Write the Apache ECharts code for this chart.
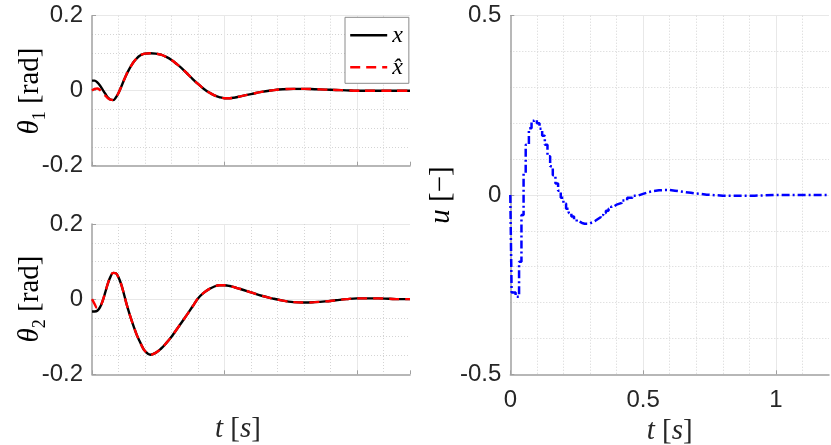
<!DOCTYPE html>
<html>
<head>
<meta charset="utf-8">
<script src="https://cdn.jsdelivr.net/npm/echarts@6/dist/echarts.min.js"></script>
<style>
html,body{margin:0;padding:0;background:#fff;}
#c{width:831px;height:445px;}
</style>
</head>
<body>
<div id="c"></div>
<script>
// ---- data ----
const tTheta = [0,0.01,0.02,0.03,0.04,0.05,0.06,0.07,0.08,0.09,0.10,0.11,0.12,0.13,0.14,0.15,0.16,0.17,0.18,0.19,0.20,
  0.22,0.24,0.26,0.28,0.30,0.32,0.34,0.36,0.38,0.40,0.42,0.44,0.46,0.48,0.50,0.52,0.54,0.56,
  0.60,0.64,0.68,0.72,0.76,0.80,0.84,0.88,0.92,0.96,1.00,1.04,1.08,1.12,1.16,1.20];

const theta1 = [0.027,0.027,0.022,0.014,0.003,-0.008,-0.018,-0.024,-0.025,-0.018,-0.006,0.010,0.027,0.043,0.057,0.069,0.079,0.087,0.093,0.097,0.099,
  0.100,0.099,0.096,0.090,0.082,0.071,0.059,0.045,0.031,0.018,0.006,-0.004,-0.012,-0.017,-0.020,-0.020,-0.018,-0.015,
  -0.009,-0.003,0.001,0.004,0.005,0.005,0.004,0.003,0.002,0.001,0,0,0,0,0,0];

const theta1Hat = [0,0.005,0.006,0.002,-0.005,-0.013,-0.020,-0.024,-0.025,-0.018,-0.006,0.010,0.027,0.043,0.057,0.069,0.079,0.087,0.093,0.097,0.099,
  0.100,0.099,0.096,0.090,0.082,0.071,0.059,0.045,0.031,0.018,0.006,-0.004,-0.012,-0.017,-0.020,-0.020,-0.018,-0.015,
  -0.009,-0.003,0.001,0.004,0.005,0.005,0.004,0.003,0.002,0.001,0,0,0,0,0,0];

const theta2 = [-0.033,-0.033,-0.031,-0.022,-0.005,0.018,0.042,0.060,0.070,0.069,0.058,0.040,0.015,-0.012,-0.036,-0.058,-0.078,-0.097,-0.112,-0.127,-0.138,
  -0.148,-0.143,-0.132,-0.117,-0.100,-0.080,-0.060,-0.040,-0.019,0.002,0.016,0.026,0.033,0.037,0.037,0.035,0.031,0.027,
  0.018,0.009,0.002,-0.004,-0.008,-0.009,-0.008,-0.006,-0.003,0,0.002,0.002,0.002,0.001,0,0];

const theta2Hat = [0,-0.013,-0.024,-0.020,-0.005,0.018,0.042,0.060,0.070,0.069,0.058,0.040,0.015,-0.012,-0.036,-0.058,-0.078,-0.097,-0.112,-0.127,-0.138,
  -0.148,-0.143,-0.132,-0.117,-0.100,-0.080,-0.060,-0.040,-0.019,0.002,0.016,0.026,0.033,0.037,0.037,0.035,0.031,0.027,
  0.018,0.009,0.002,-0.004,-0.008,-0.009,-0.008,-0.006,-0.003,0,0.002,0.002,0.002,0.001,0,0];

const tU = [0,0.005,0.02,0.033,0.042,0.05,0.058,0.07,0.08,0.09,0.10,0.11,0.12,0.13,0.14,0.15,0.16,0.17,0.18,0.19,0.20,
  0.21,0.22,0.23,0.24,0.25,0.26,0.27,0.28,0.29,0.30,0.31,0.32,0.33,0.34,0.35,0.36,0.37,0.38,0.39,0.40,
  0.42,0.44,0.46,0.48,0.50,0.52,0.54,0.56,0.58,0.60,0.62,0.64,0.66,0.68,0.70,0.72,0.74,0.76,0.78,0.80,
  0.84,0.88,0.92,0.96,1.00,1.10,1.20];

const uVals = [0,-0.272,-0.284,-0.186,-0.056,0.060,0.140,0.186,0.207,0.210,0.200,0.185,0.165,0.140,0.108,0.080,0.055,0.032,0.012,-0.008,-0.024,
  -0.038,-0.050,-0.060,-0.068,-0.074,-0.078,-0.080,-0.080,-0.079,-0.076,-0.072,-0.067,-0.062,-0.056,-0.050,-0.044,-0.038,-0.032,-0.027,-0.022,
  -0.015,-0.008,-0.002,0.003,0.008,0.011,0.013,0.014,0.014,0.012,0.010,0.008,0.006,0.004,0.003,0.001,0,-0.001,-0.002,-0.002,
  -0.002,-0.002,-0.001,0,0,0,0];

const xTicksLabels = ['0','0.5','1'];
const seriesNames = ['x', 'x\u0302'];
const yTitles = ['{i|θ}{sub|1}{r| [rad]}', '{i|θ}{sub|2}{r| [rad]}', '{i|u}{r| [−]}'];
const xTitle = '{i|t}{r| [}{i|s}{r|]}';

// ---- chart ----
const chart = echarts.init(document.getElementById('c'), null, {renderer:'canvas'});

const axisCol = '#a0a0a0';
const txtCol = '#262626';
const sansFont = 'Liberation Sans, Arial, sans-serif';
const serifFont = 'Liberation Serif, Times New Roman, serif';

const titleRich = {
  i: {fontFamily: serifFont, fontStyle: 'italic', fontSize: 29, color: txtCol, lineHeight: 38, verticalAlign: 'middle'},
  r: {fontFamily: serifFont, fontSize: 29, color: txtCol, lineHeight: 38, verticalAlign: 'middle'},
  sub: {fontFamily: serifFont, fontSize: 18, color: txtCol, lineHeight: 18, verticalAlign: 'bottom'}
};

function xAx(gi, showLabels, name) {
  return {
    gridIndex: gi, type: 'value', min: 0, max: 1.2, interval: 0.5,
    axisLine: {show: true, onZero: false, lineStyle: {color: axisCol, width: 1.5}},
    axisTick: {show: true, inside: true, length: 4, lineStyle: {color: axisCol}},
    axisLabel: {show: showLabels, showMaxLabel: false, margin: 14, fontFamily: sansFont, fontSize: 24, color: txtCol,
      formatter: function (v) { const s = String(+v.toFixed(2)); return xTicksLabels.indexOf(s) >= 0 ? s : ''; }},
    splitLine: {show: true, showMaxLine: false, showMinLine: false, lineStyle: {color: '#e8e8e8', width: 1}},
    minorTick: {show: false, splitNumber: 5},
    minorSplitLine: {show: true, lineStyle: {color: '#d4d4d4', width: 1, type: [1, 2]}},
    name: name || '', nameLocation: 'middle', nameGap: 36,
    nameTextStyle: {rich: titleRich}
  };
}

function yAx(gi, lim, minorN) {
  return {
    gridIndex: gi, type: 'value', min: -lim, max: lim, interval: lim,
    axisLine: {show: true, onZero: false, lineStyle: {color: axisCol, width: 1.5}},
    axisTick: {show: true, inside: true, length: 4, lineStyle: {color: axisCol}},
    axisLabel: {margin: 9, fontFamily: sansFont, fontSize: 24, color: txtCol},
    splitLine: {show: true, showMinLine: false, lineStyle: {color: '#e8e8e8', width: 1}},
    minorTick: {show: false, splitNumber: minorN},
    minorSplitLine: {show: true, lineStyle: {color: '#d4d4d4', width: 1, type: [1, 2]}}
  };
}

function yTitle(text, x, y) {
  return {
    type: 'text', x: x, y: y, rotation: Math.PI / 2, silent: true,
    style: {text: text, rich: titleRich, align: 'center', verticalAlign: 'middle'}
  };
}

function pairs(t, v) { return t.map((x, i) => [x, v[i]]); }

const option = {
  animation: false,
  backgroundColor: '#fff',
  grid: [
    {left: 92, top: 15.7, width: 318, height: 150, outerBoundsMode: 'none', containLabel: false},
    {left: 92, top: 224, width: 318, height: 150.3, outerBoundsMode: 'none', containLabel: false},
    {left: 510.3, top: 15.7, width: 318.7, height: 358.6, outerBoundsMode: 'none', containLabel: false}
  ],
  xAxis: [
    xAx(0, false, ''),
    Object.assign(xAx(1, false, xTitle), {nameTextStyle: {rich: titleRich, padding: [0, 26, 0, 0]}}),
    xAx(2, true, xTitle)
  ],
  yAxis: [
    yAx(0, 0.2, 4),
    yAx(1, 0.2, 4),
    yAx(2, 0.5, 5)
  ],
  graphic: [
    yTitle(yTitles[0], 30, 91),
    yTitle(yTitles[1], 30, 299),
    yTitle(yTitles[2], 441, 195)
  ],
  legend: {
    data: seriesNames,
    orient: 'vertical',
    left: 345, top: 17.3,
    padding: [6, 6, 4, 4],
    itemWidth: 37, itemHeight: 14, itemGap: 8,
    backgroundColor: '#fff',
    borderColor: '#8a8a8a', borderWidth: 1, borderRadius: 0,
    itemStyle: {opacity: 0},
    lineStyle: {width: 2.4},
    textStyle: {fontFamily: serifFont, fontStyle: 'italic', fontSize: 24, color: '#000', lineHeight: 24},
    selectedMode: false
  },
  series: [
    {name: seriesNames[0], type: 'line', xAxisIndex: 0, yAxisIndex: 0, data: pairs(tTheta, theta1), smooth: 0.4,
      showSymbol: false, symbol: 'none', lineStyle: {color: '#000', width: 2.4}, itemStyle: {color: '#000'}, z: 3},
    {name: seriesNames[1], type: 'line', xAxisIndex: 0, yAxisIndex: 0, data: pairs(tTheta, theta1Hat), smooth: 0.4,
      showSymbol: false, symbol: 'none', lineStyle: {color: '#ff0000', width: 2.4, type: [10, 6]}, itemStyle: {color: '#ff0000'}, z: 4},
    {name: seriesNames[0], type: 'line', xAxisIndex: 1, yAxisIndex: 1, data: pairs(tTheta, theta2), smooth: 0.4,
      showSymbol: false, symbol: 'none', lineStyle: {color: '#000', width: 2.4}, itemStyle: {color: '#000'}, z: 3},
    {name: seriesNames[1], type: 'line', xAxisIndex: 1, yAxisIndex: 1, data: pairs(tTheta, theta2Hat), smooth: 0.4,
      showSymbol: false, symbol: 'none', lineStyle: {color: '#ff0000', width: 2.4, type: [10, 6]}, itemStyle: {color: '#ff0000'}, z: 4},
    {name: 'u', type: 'line', xAxisIndex: 2, yAxisIndex: 2, data: pairs(tU, uVals), step: 'end',
      showSymbol: false, symbol: 'none', lineStyle: {color: '#0000ff', width: 2.5, type: [8, 3, 2, 3]}, itemStyle: {color: '#0000ff'}, z: 3}
  ]
};
chart.setOption(option);
</script>
</body>
</html>
